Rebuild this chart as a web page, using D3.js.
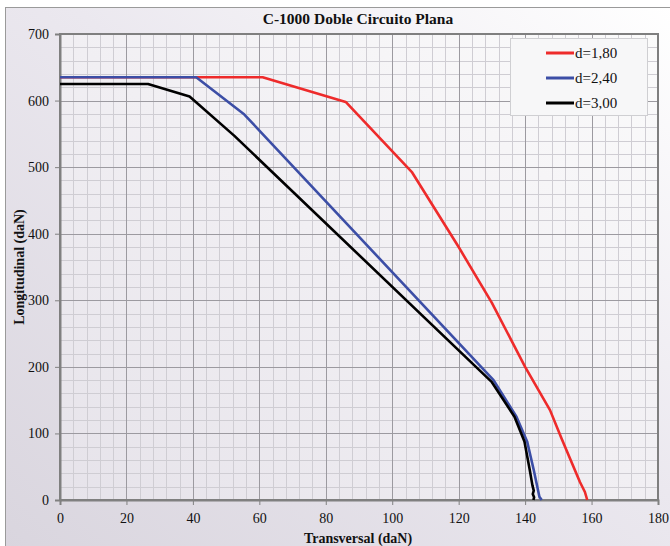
<!DOCTYPE html>
<html>
<head>
<meta charset="utf-8">
<script src="https://cdn.jsdelivr.net/npm/d3@7"></script>
<style>
  html, body { margin: 0; padding: 0; background: #fff; }
  svg text { font-family: "Liberation Serif", Tinos, "Times New Roman", "DejaVu Serif", serif; }
</style>
</head>
<body>
<svg id="chart" width="670" height="546"></svg>
<script>
// Capacity curves: transversal vs longitudinal load (daN)
const seriesNames = ["d=1,80", "d=2,40", "d=3,00"];
const seriesColors = ["#ee2b2b", "#3c4ea6", "#000000"];

const transD180 = [0, 61, 86, 106, 120, 130, 140, 147.5, 151, 156.5, 158, 158.7];
const longD180  = [635, 635, 598, 492, 380, 296, 200, 135, 92, 27, 12, 0];

const transD240 = [0, 41, 55.5, 130.5, 137.4, 140.6, 142.6, 144.3, 145];
const longD240  = [635, 635, 579, 180, 125, 88, 45, 5, 0];

const transD300 = [0, 26.5, 39, 52.5, 130, 136.8, 139.8, 141.4, 142.2, 142.6, 142.3, 142.7, 142.5];
const longD300  = [625, 625, 606, 547, 177, 125, 88, 45, 22, 14, 9, 4, 0];

const xTicks = [0, 20, 40, 60, 80, 100, 120, 140, 160, 180];
const yTicks = [0, 100, 200, 300, 400, 500, 600, 700];

const series = [
  { name: seriesNames[0], color: seriesColors[0], x: transD180, y: longD180 },
  { name: seriesNames[1], color: seriesColors[1], x: transD240, y: longD240 },
  { name: seriesNames[2], color: seriesColors[2], x: transD300, y: longD300 }
];

const FONT = "'Liberation Serif', Tinos, 'Times New Roman', 'DejaVu Serif', serif";

const svg = d3.select("#chart");
const W = 670, H = 546;
const plot = { left: 60, right: 658, top: 34, bottom: 500 };

const defs = svg.append("defs");
const bgGrad = defs.append("linearGradient").attr("id", "bgGrad")
  .attr("x1", "100%").attr("y1", "0%").attr("x2", "0%").attr("y2", "100%");
bgGrad.append("stop").attr("offset", "0%").attr("stop-color", "#ffffff");
bgGrad.append("stop").attr("offset", "45%").attr("stop-color", "#ebe8ef");
bgGrad.append("stop").attr("offset", "100%").attr("stop-color", "#d9d5de");

const plotGrad = defs.append("linearGradient").attr("id", "plotGrad")
  .attr("x1", "100%").attr("y1", "0%").attr("x2", "0%").attr("y2", "100%");
plotGrad.append("stop").attr("offset", "0%").attr("stop-color", "#fbfbfb");
plotGrad.append("stop").attr("offset", "50%").attr("stop-color", "#f1eff3");
plotGrad.append("stop").attr("offset", "100%").attr("stop-color", "#e6e3ea");

// outer chart frame
svg.append("rect").attr("x", 5.5).attr("y", 7.5).attr("width", W).attr("height", H)
  .attr("fill", "url(#bgGrad)").attr("stroke", "#9a9a9a").attr("stroke-width", 1);

const x = d3.scaleLinear().domain([0, 180]).range([plot.left, plot.right]);
const y = d3.scaleLinear().domain([0, 700]).range([plot.bottom, plot.top]);

svg.append("rect")
  .attr("x", plot.left).attr("y", plot.top)
  .attr("width", plot.right - plot.left).attr("height", plot.bottom - plot.top)
  .attr("fill", "url(#plotGrad)");

// minor grid
const grid = svg.append("g");
grid.selectAll(".vminor").data(d3.range(0, 181, 4)).join("line")
  .attr("x1", d => Math.round(x(d)) + 0.5).attr("x2", d => Math.round(x(d)) + 0.5)
  .attr("y1", plot.top).attr("y2", plot.bottom)
  .attr("stroke", "#cfcdd3").attr("stroke-width", 1);
grid.selectAll(".hminor").data(d3.range(0, 701, 20)).join("line")
  .attr("y1", d => Math.round(y(d)) + 0.5).attr("y2", d => Math.round(y(d)) + 0.5)
  .attr("x1", plot.left).attr("x2", plot.right)
  .attr("stroke", "#cfcdd3").attr("stroke-width", 1);
// major grid
grid.selectAll(".vmajor").data(xTicks).join("line")
  .attr("x1", d => Math.round(x(d)) + 0.5).attr("x2", d => Math.round(x(d)) + 0.5)
  .attr("y1", plot.top).attr("y2", plot.bottom)
  .attr("stroke", "#9c9aa0").attr("stroke-width", 1);
grid.selectAll(".hmajor").data(yTicks).join("line")
  .attr("y1", d => Math.round(y(d)) + 0.5).attr("y2", d => Math.round(y(d)) + 0.5)
  .attr("x1", plot.left).attr("x2", plot.right)
  .attr("stroke", "#9c9aa0").attr("stroke-width", 1);

// plot border
svg.append("rect")
  .attr("x", plot.left).attr("y", plot.top)
  .attr("width", plot.right - plot.left).attr("height", plot.bottom - plot.top)
  .attr("fill", "none").attr("stroke", "#7f7f7f").attr("stroke-width", 2);

// axes
const xAxis = svg.append("g").attr("transform", `translate(0,${plot.bottom})`)
  .call(d3.axisBottom(x).tickValues(xTicks).tickSize(5).tickPadding(8).tickFormat(d3.format("d")));
const yAxis = svg.append("g").attr("transform", `translate(${plot.left},0)`)
  .call(d3.axisLeft(y).tickValues(yTicks).tickSize(5).tickPadding(6).tickFormat(d3.format("d")));
[xAxis, yAxis].forEach(a => {
  a.attr("font-family", FONT);
  a.select(".domain").attr("stroke", "#808080").attr("stroke-width", 2);
  a.selectAll(".tick line").attr("stroke", "#808080");
  a.selectAll(".tick text").attr("font-size", 14)
    .style("font-family", FONT).attr("fill", "#111");
});

// curves
const line = d3.line().x(d => x(d[0])).y(d => y(d[1]));
series.forEach(s => {
  svg.append("path")
    .datum(s.x.map((v, i) => [v, s.y[i]]))
    .attr("d", line)
    .attr("fill", "none")
    .attr("stroke", s.color)
    .attr("stroke-width", 2.6)
    .attr("stroke-linejoin", "round");
});

// title and axis titles
svg.append("text").attr("x", 358).attr("y", 24).attr("text-anchor", "middle")
  .style("font-family", FONT)
  .attr("font-size", 15.5).attr("font-weight", "bold").attr("fill", "#111")
  .text("C-1000 Doble Circuito Plana");
svg.append("text").attr("x", 358).attr("y", 543).attr("text-anchor", "middle")
  .style("font-family", FONT)
  .attr("font-size", 14).attr("font-weight", "bold").attr("fill", "#111")
  .text("Transversal (daN)");
svg.append("text").attr("transform", `translate(24,${(plot.top + plot.bottom) / 2}) rotate(-90)`)
  .attr("text-anchor", "middle")
  .style("font-family", FONT)
  .attr("font-size", 14).attr("font-weight", "bold").attr("fill", "#111")
  .text("Longitudinal (daN)");

// legend
const legend = svg.append("g");
legend.append("rect").attr("x", 510.5).attr("y", 38.5).attr("width", 137).attr("height", 77)
  .attr("fill", "#f7f7f8").attr("stroke", "#cfcfd2").attr("stroke-width", 1);
series.forEach((s, i) => {
  const ly = 53 + i * 25;
  legend.append("line").attr("x1", 546).attr("x2", 574).attr("y1", ly).attr("y2", ly)
    .attr("stroke", s.color).attr("stroke-width", 3);
  legend.append("text").attr("x", 575).attr("y", ly + 5)
    .style("font-family", FONT)
    .attr("font-size", 15).attr("fill", "#111").text(s.name);
});
</script>
</body>
</html>
